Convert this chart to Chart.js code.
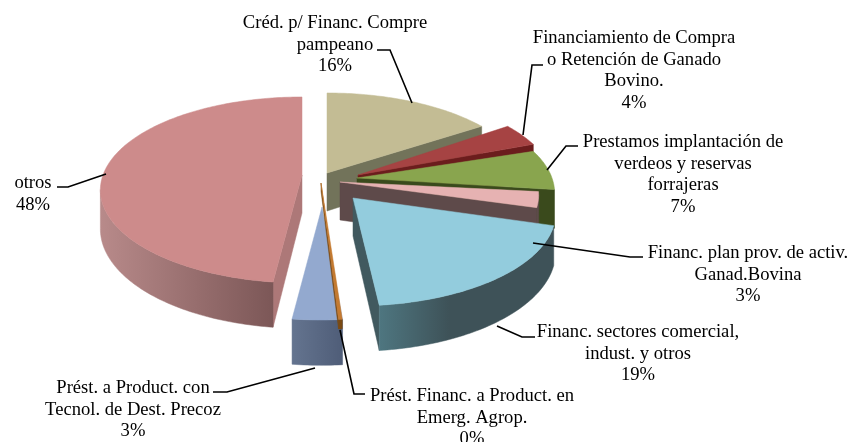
<!DOCTYPE html>
<html><head><meta charset="utf-8">
<style>html,body{margin:0;padding:0;background:#fff;overflow:hidden}canvas{display:block}</style>
<script src="https://cdn.jsdelivr.net/npm/chart.js@4"></script>
</head><body>
<canvas id="c" width="852" height="442"></canvas>
<script>
// Data
const categories = ["Créd. p/ Financ. Compre pampeano","Financiamiento de Compra o Retención de Ganado Bovino.","Prestamos implantación de verdeos y reservas forrajeras","Financ. plan prov. de activ. Ganad.Bovina","Financ. sectores comercial, indust. y otros","Prést. Financ. a Product. en Emerg. Agrop.","Prést. a Product. con Tecnol. de Dest. Precoz","otros"];
const values = [16, 4, 7, 2.7, 18.6, 0.25, 3.4, 48.05];
const labelLines = [
  ["Créd. p/ Financ. Compre","pampeano"],
  ["Financiamiento de Compra","o Retención de Ganado","Bovino."],
  ["Prestamos implantación de","verdeos y reservas","forrajeras"],
  ["Financ. plan prov. de activ.","Ganad.Bovina"],
  ["Financ. sectores comercial,","indust. y otros"],
  ["Prést. Financ. a Product. en","Emerg. Agrop."],
  ["Prést. a Product. con","Tecnol. de Dest. Precoz"],
  ["otros"]
];
// Styles
const topColors  = ["#c3bc94","#a64343","#89a54e","#e6b2b2","#93ccdd","#c47a30","#93a9cf","#cd8b8b"];
const faceColors = ["#72735a","#6b1d1d","#3a4a1c","#5e4a4a","#41595f","#7a4a14","#5a6a88","#ad7878"];
const wallStops  = [
  [[0,"#72735a"],[1,"#72735a"]],[[0,"#6b1d1d"],[1,"#6b1d1d"]],[[0,"#3a4a1c"],[1,"#3a4a1c"]],[[0,"#5e4a4a"],[1,"#5e4a4a"]],
  [[0,"#4e7680"],[0.4,"#3e5258"],[1,"#3e5258"]],[[0,"#7a4a14"],[1,"#7a4a14"]],[[0,"#64748f"],[1,"#4f5d78"]],[[0,"#b88a8a"],[1,"#7c5757"]]
];
const view = {cx:302, cy:175, f:199, a:90.6, k:0.161};
// explosion of each slice: apex shift and rim shift [ax, ay, ox, oy]; depth of the extrusion
const explode = [[25,-2,25,-4],[56,0,51,-4],[55,3,51,3],[38,7,35,5],[51,23,52,23],[19,8,15,37],[20,32,19,37],[0,0,0,0]];
const depth = [38,38,38,38,38,8,38,38];
const drawOrder = [7,0,1,2,3,6,5,4];
const labelPos = [[335,28],[634,43],[683,147],[748,258],[638,337],[472,401],[133,393],[33,188]];
const lineGap = 21.5;
const leaders = [
  [[377,50],[390,50],[412,103]],
  [[543,65],[532,65],[523,135]],
  [[578,146],[566,146],[547,170]],
  [[643,257],[630,257],[533,243]],
  [[535,337],[522,337],[497,326]],
  [[365,394],[354,394],[340,330]],
  [[213,392],[227,392],[315,368]],
  [[57,187],[68,187],[106,174]]
];
const RAD = Math.PI/180;
function rim(t, i){
  const X=Math.sin(t), Y=-Math.cos(t), d=1-view.k*Y, e=explode[i];
  return {x:view.cx+view.f*X/d+e[2], y:view.cy+view.a*Y/d+e[3], drop:depth[i]/d};
}
function apex(i){const e=explode[i];return {x:view.cx+e[0], y:view.cy+e[1], drop:depth[i]};}
function poly(ctx, pts, fill){
  ctx.beginPath();pts.forEach((p,j)=>j?ctx.lineTo(p[0],p[1]):ctx.moveTo(p[0],p[1]));ctx.closePath();
  ctx.fillStyle=fill;ctx.fill();ctx.strokeStyle=fill;ctx.lineWidth=0.5;ctx.stroke();
}
function arcPts(s,e,i,down){
  const out=[],n=Math.max(2,Math.ceil((e-s)/RAD));
  for(let j=0;j<=n;j++){const p=rim(s+(e-s)*j/n,i);out.push([p.x,p.y+(down?p.drop:0)]);}
  return out;
}
function face(ctx,t,i){
  const a=apex(i),r=rim(t,i);
  poly(ctx,[[a.x,a.y],[r.x,r.y],[r.x,r.y+r.drop],[a.x,a.y+a.drop]],faceColors[i]);
}
const pie3d = {
  id:'pie3d',
  beforeDatasetsDraw(chart){
    const ctx=chart.ctx, meta=chart.getDatasetMeta(0);
    ctx.save();
    ctx.filter='blur(0.6px)';
    drawOrder.forEach(i=>{
      const el=meta.data[i];
      const s=el.startAngle+Math.PI/2, e=el.endAngle+Math.PI/2;
      if(e>0 && e<Math.PI) face(ctx,e,i);
      if(s>Math.PI && s<2*Math.PI) face(ctx,s,i);
      const ws=Math.max(s,99*RAD), we=Math.min(e,261*RAD);
      if(we>ws){
        const topA=arcPts(ws,we,i,false), bot=arcPts(ws,we,i,true).reverse();
        const xs=topA.map(p=>p[0]);
        const g=ctx.createLinearGradient(Math.min(...xs),0,Math.max(...xs),0);
        wallStops[i].forEach(st=>g.addColorStop(st[0],st[1]));
        poly(ctx,topA.concat(bot),g);
      }
      const a=apex(i);
      poly(ctx,[[a.x,a.y]].concat(arcPts(s,e,i,false)),el.options.backgroundColor);
    });
    ctx.restore();
    return false;
  },
  afterDraw(chart){
    const ctx=chart.ctx, data=chart.data.datasets[0].data;
    const total=data.reduce((a,b)=>a+b,0);
    ctx.save();
    ctx.strokeStyle='#000';ctx.lineWidth=1.6;ctx.lineJoin='miter';
    leaders.forEach(l=>{ctx.beginPath();l.forEach((p,j)=>j?ctx.lineTo(p[0],p[1]):ctx.moveTo(p[0],p[1]));ctx.stroke();});
    ctx.fillStyle='#000';ctx.textAlign='center';ctx.textBaseline='alphabetic';
    ctx.font='18.6px "Liberation Serif"';
    labelLines.forEach((ls,i)=>{
      const pos=labelPos[i];
      ls.concat([Math.round(data[i]/total*100)+'%']).forEach((t,j)=>ctx.fillText(t,pos[0],pos[1]+j*lineGap));
    });
    ctx.restore();
  }
};
new Chart(document.getElementById('c'),{
  type:'pie',
  data:{labels:categories,datasets:[{data:values,backgroundColor:topColors,borderWidth:0}]},
  options:{responsive:false,animation:false,events:[],rotation:0,
    plugins:{legend:{display:false},tooltip:{enabled:false},title:{display:false}}},
  plugins:[pie3d]
});
</script>
</body></html>
